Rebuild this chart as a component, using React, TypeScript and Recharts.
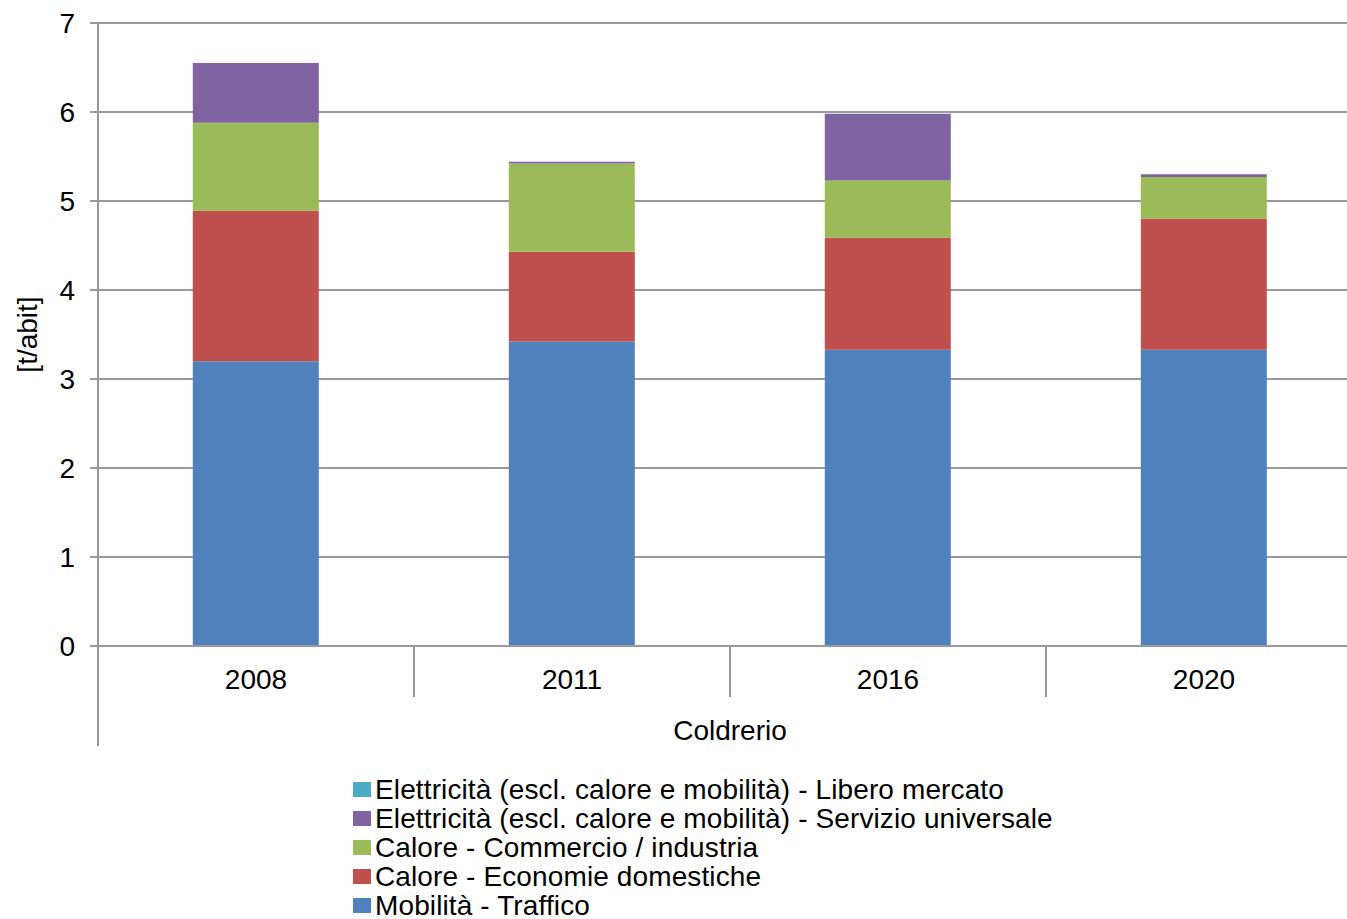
import { Bar, BarChart, CartesianGrid, XAxis, YAxis } from "recharts";

const years = ["2008", "2011", "2016", "2020"];

const mobilitaTraffico = [3.2, 3.42, 3.33, 3.33];
const caloreDomestiche = [1.69, 1.01, 1.26, 1.47];
const caloreCommercio = [0.99, 0.99, 0.64, 0.47];
const elettricitaUniversale = [0.67, 0.02, 0.75, 0.03];
const elettricitaLibero = [0, 0, 0, 0];

const yTicks = [0, 1, 2, 3, 4, 5, 6, 7];

const series = [
  { key: "traffico", name: "Mobilità - Traffico", values: mobilitaTraffico, color: "#4F81BD" },
  { key: "domestiche", name: "Calore - Economie domestiche", values: caloreDomestiche, color: "#C0504D" },
  { key: "commercio", name: "Calore - Commercio / industria", values: caloreCommercio, color: "#9BBB59" },
  {
    key: "universale",
    name: "Elettricità (escl. calore e mobilità) - Servizio universale",
    values: elettricitaUniversale,
    color: "#8064A2",
  },
  {
    key: "libero",
    name: "Elettricità (escl. calore e mobilità) - Libero mercato",
    values: elettricitaLibero,
    color: "#4BACC6",
  },
];

const data = years.map((year, i) => {
  const row: Record<string, string | number> = { year };
  series.forEach((s) => {
    row[s.key] = s.values[i];
  });
  return row;
});

const font = "'Liberation Sans', Arial, sans-serif";
const axisGray = "#999999";

function YearTick(props: any) {
  const { x, y, payload, index, visibleTicksCount, width } = props;
  const band = payload?.offset ? payload.offset * 2 : width / visibleTicksCount;
  const right = x + band / 2;
  const left = x - band / 2;
  return (
    <g>
      <text x={x} y={y + 43} textAnchor="middle" fontSize={28} fill="#000" fontFamily={font}>
        {payload.value}
      </text>
      {index < visibleTicksCount - 1 && (
        <line x1={right} x2={right} y1={y} y2={y + 51} stroke={axisGray} strokeWidth={2} />
      )}
      {index === 0 && (
        <line x1={left} x2={left} y1={y} y2={y + 100} stroke={axisGray} strokeWidth={2} />
      )}
    </g>
  );
}

export default function App() {
  return (
    <div
      style={{
        position: "absolute",
        left: 0,
        top: 0,
        width: 1347,
        height: 919,
        overflow: "hidden",
        background: "#fff",
        fontFamily: font,
      }}
    >
      <BarChart
        width={1380}
        height={919}
        data={data}
        margin={{ top: 23, right: 18, left: 0, bottom: 163 }}
        barCategoryGap="30%"
      >
        <CartesianGrid vertical={false} stroke={axisGray} strokeWidth={2} />
        <XAxis
          dataKey="year"
          height={110}
          tickLine={false}
          tickSize={0}
          tickMargin={0}
          axisLine={{ stroke: axisGray, strokeWidth: 2 }}
          tick={<YearTick />}
          interval={0}
          label={{
            content: ({ viewBox }: any) => (
              <text
                x={viewBox.x + viewBox.width / 2}
                y={740}
                textAnchor="middle"
                fontSize={28}
                fill="#000"
                fontFamily={font}
              >
                Coldrerio
              </text>
            ),
          }}
        />
        <YAxis
          width={98}
          domain={[0, 7]}
          ticks={yTicks}
          interval={0}
          tickSize={8}
          tickMargin={15}
          tick={{ fontSize: 28, fill: "#000", fontFamily: font }}
          tickLine={{ stroke: axisGray, strokeWidth: 2 }}
          axisLine={{ stroke: axisGray, strokeWidth: 2 }}
          label={{
            content: ({ viewBox }: any) => {
              const cy = viewBox.y + viewBox.height / 2;
              return (
                <text
                  x={37}
                  y={cy}
                  transform={`rotate(-90, 37, ${cy})`}
                  textAnchor="middle"
                  fontSize={28}
                  fill="#000"
                  fontFamily={font}
                >
                  [t/abit]
                </text>
              );
            },
          }}
        />
        {series.map((s) => (
          <Bar
            key={s.key}
            dataKey={s.key}
            name={s.name}
            stackId="a"
            fill={s.color}
            isAnimationActive={false}
          />
        ))}
      </BarChart>
      <div
        style={{
          position: "absolute",
          left: 353,
          top: 775,
          fontSize: 28,
          color: "#000",
          whiteSpace: "nowrap",
        }}
      >
        {[...series].reverse().map((s) => (
          <div key={s.key} style={{ display: "flex", alignItems: "center", height: 29 }}>
            <span
              style={{
                display: "inline-block",
                width: 18,
                height: 15,
                background: s.color,
                marginRight: 4,
              }}
            />
            <span style={{ lineHeight: "24px", letterSpacing: "0.12px" }}>{s.name}</span>
          </div>
        ))}
      </div>
    </div>
  );
}
